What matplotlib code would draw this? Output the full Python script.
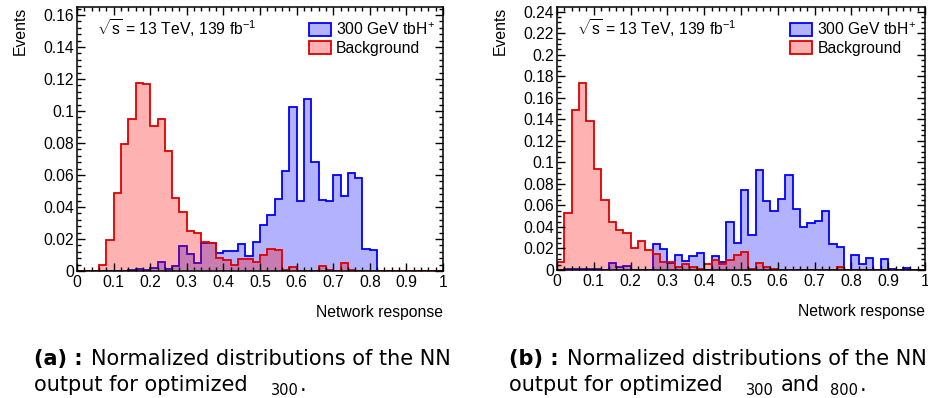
import numpy as np
import matplotlib
matplotlib.use("Agg")
import matplotlib.pyplot as plt
from matplotlib.patches import Patch
from matplotlib.ticker import MultipleLocator

plt.rcParams["font.family"] = ["Liberation Sans", "DejaVu Sans"]
plt.rcParams["mathtext.fontset"] = "custom"
plt.rcParams["mathtext.rm"] = "Liberation Sans"
plt.rcParams["mathtext.it"] = "Liberation Sans:italic"
plt.rcParams["mathtext.sf"] = "Liberation Sans"

# --- DATA (50 bins of network response, 0..1) ---
edges = np.linspace(0, 1, 51)

sig_a = [0, 0, 0, 0, 0, 0, 0, 0.0005, 0.0015, 0.0005,
         0.0020, 0.0056, 0.0015, 0.0030, 0.0156, 0.0104, 0.0052, 0.0173, 0.0177, 0.0110,
         0.0123, 0.0128, 0.0169, 0.0092, 0.0183, 0.0290, 0.0348, 0.0452, 0.0626, 0.1026,
         0.0436, 0.1072, 0.0680, 0.0442, 0.0440, 0.0598, 0.0470, 0.0613, 0.0582, 0.0140,
         0.0131, 0, 0, 0, 0, 0, 0, 0, 0, 0]
bkg_a = [0, 0, 0, 0.0035, 0.0196, 0.0488, 0.0793, 0.0953, 0.1172, 0.1166,
         0.0909, 0.0951, 0.0749, 0.0459, 0.0367, 0.0248, 0.0238, 0.0181, 0.0177, 0.0080,
         0.0068, 0.0037, 0.0077, 0.0072, 0.0057, 0.0103, 0.0140, 0.0133, 0.0004, 0.0025,
         0, 0, 0, 0.0030, 0.0004, 0, 0.0052, 0.0005, 0, 0,
         0, 0, 0, 0, 0, 0, 0, 0, 0, 0]

sig_b = [0, 0.0012, 0.0012, 0.0008, 0.0005, 0.0008, 0, 0.0062, 0.0025, 0.0040,
         0, 0, 0, 0.0238, 0.0192, 0.0062, 0.0139, 0.0080, 0.0133, 0.0160,
         0, 0.0133, 0.0074, 0.0443, 0.0250, 0.0745, 0.0328, 0.0930, 0.0637, 0.0550,
         0.0657, 0.0887, 0.0567, 0.0397, 0.0440, 0.0456, 0.0549, 0.0238, 0.0217, 0,
         0.0142, 0.0053, 0.0108, 0, 0.0099, 0.0010, 0, 0.0020, 0, 0]
bkg_b = [0.0074, 0.0533, 0.1490, 0.1734, 0.1387, 0.0941, 0.0653, 0.0449, 0.0372, 0.0347,
         0.0204, 0.0269, 0.0186, 0.0149, 0.0077, 0.0071, 0.0031, 0.0053, 0.0030, 0.0006,
         0.0053, 0.0090, 0.0060, 0.0090, 0.0139, 0.0164, 0.0006, 0.0068, 0.0025, 0.0006,
         0, 0, 0, 0, 0, 0, 0, 0, 0.0030, 0,
         0, 0, 0, 0, 0, 0, 0, 0, 0, 0]

sig_label = "300 GeV tbH$^{+}$"
bkg_label = "Background"
lumi_text = r"$\sqrt{\mathrm{s}}$ = 13 TeV, 139 fb$^{-1}$"

BLUE = "#0000ff"
RED = "#dd0000"
FS = 11.3

fig = plt.figure(figsize=(9.29, 3.98), dpi=100)

panels = [
    ([77 / 929, 1 - 271 / 398, 366 / 929, 264 / 398], sig_a, bkg_a, 0.165, 0.004),
    ([557 / 929, 1 - 270 / 398, 368 / 929, 263 / 398], sig_b, bkg_b, 0.2444, 0.005),
]

axes = []
for rect, sig, bkg, ymax, yminor in panels:
    ax = fig.add_axes(rect)
    axes.append(ax)
    ax.stairs(sig, edges, fill=True, color=BLUE, alpha=0.3, lw=0)
    ax.stairs(sig, edges, color=BLUE, lw=1.3, baseline=0)
    ax.stairs(bkg, edges, fill=True, color=(1, 0, 0), alpha=0.3, lw=0)
    ax.stairs(bkg, edges, color=RED, lw=1.3, baseline=0)

    ax.set_xlim(0, 1)
    ax.set_ylim(0, ymax)
    ax.xaxis.set_major_locator(MultipleLocator(0.1))
    ax.xaxis.set_minor_locator(MultipleLocator(0.02))
    ax.yaxis.set_major_locator(MultipleLocator(0.02))
    ax.yaxis.set_minor_locator(MultipleLocator(yminor))
    ax.xaxis.set_major_formatter(plt.FuncFormatter(lambda v, p: f"{v:g}"))
    ax.yaxis.set_major_formatter(plt.FuncFormatter(lambda v, p: f"{v:g}"))
    ax.tick_params(which="both", direction="in", top=True, right=True,
                   labelsize=FS, width=1)
    ax.tick_params(which="major", length=6)
    ax.tick_params(which="minor", length=3)
    ax.tick_params(axis="x", pad=3)
    ax.tick_params(axis="y", pad=2)
    for s in ax.spines.values():
        s.set_linewidth(1.1)

    ax.set_ylabel("Events", fontsize=FS, loc="top")
    ax.yaxis.set_label_coords(-0.135, 1.0)
    ax.set_xlabel("Network response", fontsize=FS, loc="right")
    ax.xaxis.set_label_coords(1.0, -0.13)

    ax.text(0.055, 0.92, lumi_text, transform=ax.transAxes, fontsize=FS,
            va="center", ha="left")

    handles = [
        Patch(facecolor=(0, 0, 1, 0.3), edgecolor=BLUE, lw=1.3, label=sig_label),
        Patch(facecolor=(1, 0, 0, 0.3), edgecolor=RED, lw=1.3, label=bkg_label),
    ]
    ax.legend(handles=handles, loc="upper left", bbox_to_anchor=(0.633, 0.945),
              frameon=False, fontsize=FS, borderpad=0, borderaxespad=0,
              handlelength=1.4, handleheight=0.9, handletextpad=0.35,
              labelspacing=0.2)

# --- captions (pieces chained one after the other) ---
cap = ["DejaVu Sans"]
CF = 15
SF = 10.5


def caption(x, y, pieces):
    prev = fig.text(x / 929, 1 - y / 398, pieces[0][0], fontsize=CF,
                    fontweight=pieces[0][1], family=cap, va="baseline")
    for txt, weight, gap, dy, size in pieces[1:]:
        prev = axes[0].annotate(txt, xy=(1, 0), xycoords=prev,
                                xytext=(gap, dy), textcoords="offset points",
                                fontsize=size, fontweight=weight, family=cap,
                                va="bottom", annotation_clip=False)


caption(34, 365, [("(a) :", "bold"),
                  ("Normalized distributions of the NN", "normal", 6, 0, CF)])
caption(34, 391, [("output for optimized", "normal"),
                  ("300", "normal", 16.5, -2, SF),
                  (".", "normal", 1, 2, CF)])

caption(509, 365, [("(b) :", "bold"),
                   ("Normalized distributions of the NN", "normal", 6, 0, CF)])
caption(509, 391, [("output for optimized", "normal"),
                   ("300", "normal", 16.5, -2, SF),
                   ("and", "normal", 5.5, 2, CF),
                   ("800", "normal", 7, -2, SF),
                   (".", "normal", 1, 2, CF)])

fig.savefig("out.png", dpi=100)
